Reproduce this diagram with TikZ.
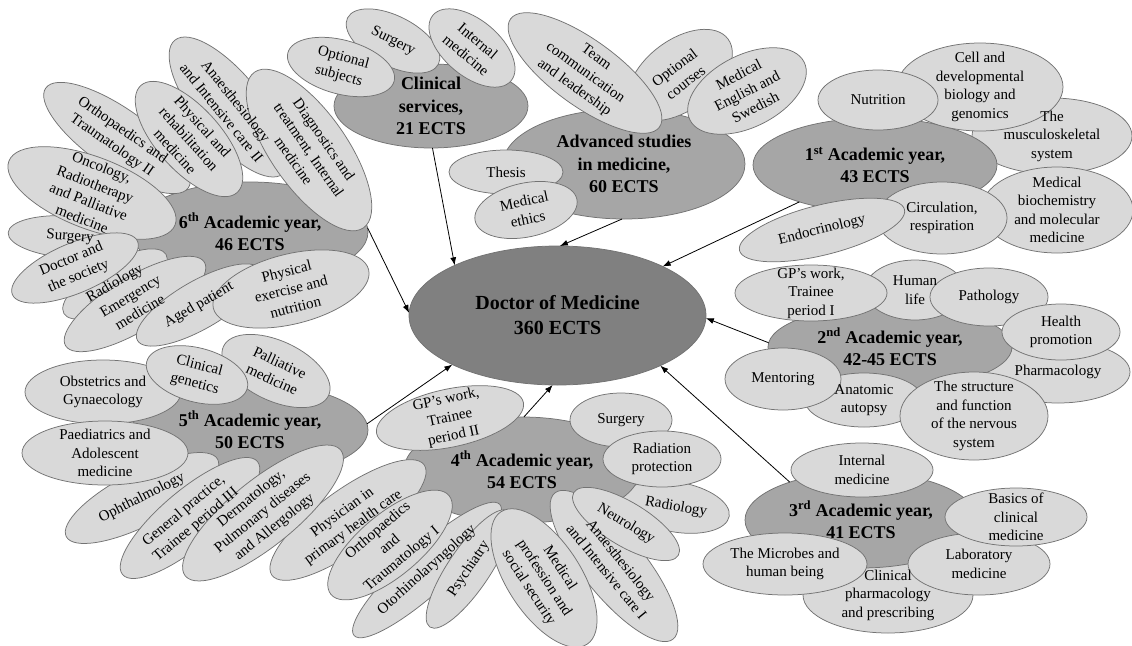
\documentclass[tikz,border=0pt]{standalone}
\usepackage{fontspec}
\setmainfont{Liberation Serif}
\usetikzlibrary{shapes.geometric,arrows.meta}

\definecolor{petalgray}{gray}{0.85}
\definecolor{hubgray}{gray}{0.65}
\definecolor{coregray}{gray}{0.5}
\definecolor{rimgray}{gray}{0.45}

\tikzset{
  blobshape/.style={ellipse, draw=rimgray, line width=0.75pt, inner sep=0pt, outer sep=0pt},
  petal/.style={blobshape, fill=petalgray},
  hub/.style={blobshape, fill=hubgray},
  core/.style={blobshape, fill=coregray},
  petaltext/.style={align=center, inner sep=0pt, font=\fontsize{15}{18.5}\selectfont},
  hubtext/.style={align=center, inner sep=0pt, font=\fontsize{18}{22.5}\selectfont\bfseries},
  coretext/.style={align=center, inner sep=0pt, font=\fontsize{20}{25}\selectfont\bfseries},
  link/.style={draw=black, line width=0.8pt, -{Latex[length=8pt,width=6pt]}},
}

% Ellipses are drawn at once; their captions are collected and set on top at the end.
\newtoks\blobtexts
% \blob[kind]{name}{x}{y}{angle}{semi-axis along}{semi-axis across}{text}
\newcommand\blob[8][petal]{%
  \node[#1, rotate=#5, minimum width={2*(#6)}, minimum height={2*(#7)}] (#2) at (#3,#4) {};
  \global\blobtexts\expandafter{\the\blobtexts
    \node[#1text, rotate=#5] (#2-t) at (#2.center) {#8};}%
}

\begin{document}
\begin{tikzpicture}[x=1pt, y=-1pt]
\path[use as bounding box] (0,0) rectangle (1132,645);

% degree
\blob[core]{doc}{557.5}{315.5}{0}{148.5}{69.5}{Doctor of Medicine\\360 ECTS}

% clinical services
\blob[hub]{cs}{431}{106}{0}{97}{42}{Clinical\\services,\\21 ECTS}
\blob{cs-surg}{393}{41}{-27}{51}{25}{Surgery}
\blob{cs-int}{472}{48}{-40}{51}{28}{Internal\\medicine}
\blob{cs-opt}{341}{67}{-15}{55}{27}{Optional\\subjects}

% advanced studies
\blob[hub]{adv}{624}{164}{0}{121}{55}{Advanced studies\\in medicine,\\60 ECTS}
\blob{adv-opt}{680}{75}{37}{60}{35}{Optional\\courses}
\blob{adv-team}{585}{73}{-36}{92}{33}{Team\\communication\\and leadership}
\blob{adv-eng}{747}{91}{27}{64}{36}{Medical\\English and\\Swedish}
\blob{adv-thesis}{506}{172}{0}{57}{22}{Thesis}
\blob{adv-eth}{526}{210}{12}{52}{27}{Medical\\ethics}

% 1st year
\blob{y1-musc}{1052}{136}{0}{80}{38}{The\\musculoskeletal\\system}
\blob[hub]{y1}{875}{165}{0}{122}{47}{1\textsuperscript{st} Academic year,\\43 ECTS}
\blob{y1-cell}{980}{87}{0}{83}{44}{Cell and\\developmental\\biology and\\genomics}
\blob{y1-nutr}{878}{100}{0}{60}{30}{Nutrition}
\blob{y1-bio}{1057}{210}{0}{76}{43}{Medical\\biochemistry\\and molecular\\medicine}
\blob{y1-circ}{942}{218}{0}{65}{36}{Circulation,\\respiration}
\blob{y1-endo}{822}{230}{14}{85}{25}{Endocrinology}

% 2nd year
\blob{y2-pharm}{1058}{372}{0}{72}{31}{Pharmacology}
\blob[hub]{y2}{890}{347}{0}{122}{42}{2\textsuperscript{nd} Academic year,\\42-45 ECTS}
\blob{y2-human}{915}{290}{0}{50}{30}{Human\\life}
\blob{y2-gp}{811}{293}{0}{76}{28}{GP’s work,\\Trainee\\period I}
\blob{y2-path}{989}{297}{0}{59}{29}{Pathology}
\blob{y2-health}{1061}{332}{0}{59}{28}{Health\\promotion}
\blob{y2-anat}{864}{400}{0}{59}{27}{Anatomic\\autopsy}
\blob{y2-ment}{783}{379}{0}{58}{31}{Mentoring}
\blob{y2-nerv}{974}{416}{0}{74}{44}{The structure\\and function\\of the nervous\\system}

% 3rd year
\blob{y3-clph}{888}{595}{0}{85}{38}{Clinical\\pharmacology\\and prescribing}
\blob[hub]{y3}{861}{520}{0}{116}{48}{3\textsuperscript{rd} Academic year,\\41 ECTS}
\blob{y3-int}{862}{470}{0}{71}{27}{Internal\\medicine}
\blob{y3-micro}{785}{564}{0}{82}{31}{The Microbes and\\human being}
\blob{y3-lab}{979}{564}{0}{71}{31}{Laboratory\\medicine}
\blob{y3-basic}{1016}{517}{0}{71}{29}{Basics of\\clinical\\medicine}

% 4th year
\blob{y4-rad}{676}{507}{-10}{54}{25}{Radiology}
\blob[hub]{y4}{522}{470}{0}{118}{53}{4\textsuperscript{th} Academic year,\\54 ECTS}
\blob{y4-gp}{450}{418}{12}{75}{29}{GP’s work,\\Trainee\\period II}
\blob{y4-surg}{621}{420}{0}{51}{27}{Surgery}
\blob{y4-radpr}{662}{459}{0}{59}{28}{Radiation\\protection}
\blob{y4-phys}{348}{520}{36}{94}{30}{Physician in\\primary health care}
\blob{y4-oto}{427}{570}{42}{98}{23}{Otorhinolaryngology}
\blob{y4-orth}{390}{545}{40}{77}{31}{Orthopaedics\\and\\Traumatology I}
\blob{y4-psy}{469}{569}{56}{70}{21}{Psychiatry}
\blob{y4-anae}{614}{566}{-51}{94}{31}{Anaesthesiology\\and Intensive care I}
\blob{y4-prof}{544}{578}{-57}{79}{37}{Medical\\profession and\\social security}
\blob{y4-neur}{626}{524}{-31}{61}{22}{Neurology}

% 5th year
\blob[hub]{y5}{250}{430}{0}{118}{47}{5\textsuperscript{th} Academic year,\\50 ECTS}
\blob{y5-pall}{276}{371}{-25}{58}{30}{Palliative\\medicine}
\blob{y5-obst}{103}{392}{0}{78}{32}{Obstetrics and\\Gynaecology}
\blob{y5-gen}{197}{375}{-15}{52}{27}{Clinical\\genetics}
\blob{y5-oph}{142}{498}{27}{85}{27}{Ophthalmology}
\blob{y5-paed}{105}{453}{0}{83}{32}{Paediatrics and\\Adolescent\\medicine}
\blob{y5-gp}{190}{518}{40}{88}{28}{General practice,\\Trainee period III}
\blob{y5-derm}{263}{513}{39}{100}{33}{Dermatology,\\Pulmonary diseases\\and Allergology}

% 6th year
\blob[hub]{y6}{250}{232}{0}{118}{50}{6\textsuperscript{th} Academic year,\\46 ECTS}
\blob{y6-orth}{117}{138}{-35}{87}{30}{Orthopaedics and\\Traumatology II}
\blob{y6-anae}{229}{107}{-51}{86}{33}{Anaesthesiology\\and Intensive care II}
\blob{y6-rehab}{189}{139}{-48}{72}{32}{Physical and\\rehabilitation\\medicine}
\blob{y6-diag}{309}{150}{-55}{95}{38}{Diagnostics and\\treatment, Internal\\medicine}
\blob{y6-surg}{70}{237}{-4}{62}{21}{Surgery}
\blob{y6-onco}{92}{193}{-21}{89}{36}{Oncology,\\Radiotherapy\\and Palliative\\medicine}
\blob{y6-rad}{115}{284}{30}{59}{22}{Radiology}
\blob{y6-soc}{75}{268}{23}{68}{25}{Doctor and\\the society}
\blob{y6-emer}{135}{304}{31}{81}{27}{Emergency\\medicine}
\blob{y6-aged}{199}{305}{30}{71}{24}{Aged patient}
\blob{y6-ex}{291}{289}{14}{80}{35}{Physical\\exercise and\\nutrition}

% captions of all ellipses
\the\blobtexts

% credits flowing into the degree
\draw[link] (cs.272)  -- (doc.154);
\draw[link] (adv.268) -- (doc.88);
\draw[link] (y6.2)    -- (doc.179);
\draw[link] (y1.206)  -- (doc.25);
\draw[link] (y2.178)  -- (doc.-1);
\draw[link] (y5.3)    -- (doc.205);
\draw[link] (y4.88)   -- (doc.266);
\draw[link] (y3.152)  -- (doc.334);
\end{tikzpicture}
\end{document}
